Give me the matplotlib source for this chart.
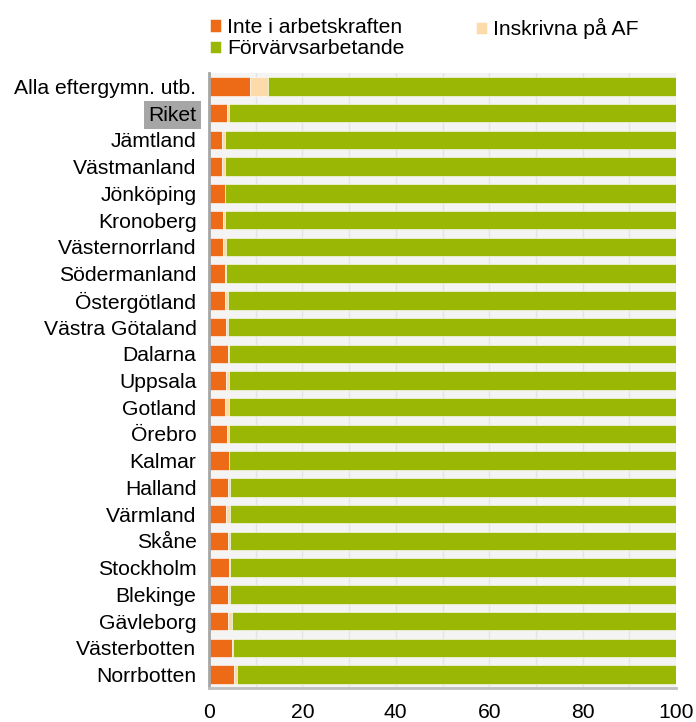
import matplotlib.pyplot as plt
import numpy as np

plt.rcParams['font.family'] = ['Liberation Sans', 'DejaVu Sans']

# Data (andel i procent)
regioner = ["Alla eftergymn. utb.", "Riket", "Jämtland", "Västmanland", "Jönköping",
            "Kronoberg", "Västernorrland", "Södermanland", "Östergötland",
            "Västra Götaland", "Dalarna", "Uppsala", "Gotland", "Örebro", "Kalmar",
            "Halland", "Värmland", "Skåne", "Stockholm", "Blekinge", "Gävleborg",
            "Västerbotten", "Norrbotten"]
inte_ak = [8.8, 3.9, 2.8, 2.8, 3.4, 3.1, 3.1, 3.4, 3.4, 3.6, 4.0, 3.6, 3.4,
           3.9, 4.2, 4.0, 3.6, 4.0, 4.3, 4.0, 4.0, 4.9, 5.4]
inskrivna = [3.8, 0.4, 0.6, 0.6, 0.1, 0.3, 0.6, 0.3, 0.6, 0.4, 0.2, 0.6, 0.8,
             0.3, 0.1, 0.6, 0.9, 0.6, 0.3, 0.6, 0.9, 0.3, 0.5]
forvarv = [100 - a - b for a, b in zip(inte_ak, inskrivna)]

c_orange = "#ED6A16"
c_peach = "#FDDAAA"
c_green = "#9BB705"
fs = 15.2

fig = plt.figure(figsize=(6.96, 7.22), dpi=100)
ax = fig.add_axes([209 / 696, 1 - 688 / 722, (676 - 209) / 696, (688 - 73) / 722])

y = np.arange(len(regioner))
h = 0.69
left1 = np.array(inte_ak)
left2 = left1 + np.array(inskrivna)
b1 = ax.barh(y, inte_ak, height=h, color=c_orange, edgecolor="white", linewidth=0.4,
             label="Inte i arbetskraften")
b2 = ax.barh(y, inskrivna, left=left1, height=h, color=c_peach, edgecolor="white",
             linewidth=0.4, label="Inskrivna på AF")
b3 = ax.barh(y, forvarv, left=left2, height=h, color=c_green, edgecolor="white",
             linewidth=0.4, label="Förvärvsarbetande")

ax.set_facecolor("#F4F4F4")
ax.set_xlim(0, 100)
ax.set_ylim(len(regioner) - 0.5, -0.5)
ax.set_xticks(np.arange(0, 101, 20))
ax.set_xticks(np.arange(0, 101, 10), minor=True)
ax.xaxis.grid(True, which="both", color="#E4E4E4", linewidth=1)
ax.set_axisbelow(True)
ax.set_yticks(y)
ax.set_yticklabels(regioner)
ax.tick_params(axis="both", length=0, labelsize=fs, colors="black")
ax.tick_params(axis="x", which="minor", length=0)
ax.tick_params(axis="x", pad=11)
ax.tick_params(axis="y", pad=9)
for lbl in ax.get_yticklabels():
    if lbl.get_text() == "Riket":
        lbl.set_bbox(dict(facecolor="#A6A6A6", edgecolor="none", pad=3))

for s in ["top", "right"]:
    ax.spines[s].set_visible(False)
ax.spines["left"].set_color("#A6A6A6")
ax.spines["left"].set_linewidth(2)
ax.spines["bottom"].set_color("#BFBFBF")
ax.spines["bottom"].set_linewidth(2)

leg_kw = dict(loc="upper left", frameon=False, fontsize=fs, handlelength=0.5,
              handleheight=0.5, handletextpad=0.3, labelspacing=0.1, borderpad=0,
              borderaxespad=0)
fig.legend(handles=[b1, b3], bbox_to_anchor=(210 / 696, 1 - 18 / 722), **leg_kw)
fig.legend(handles=[b2], bbox_to_anchor=(476 / 696, 1 - 18 / 722), **leg_kw)

fig.savefig("out.png", dpi=100)
